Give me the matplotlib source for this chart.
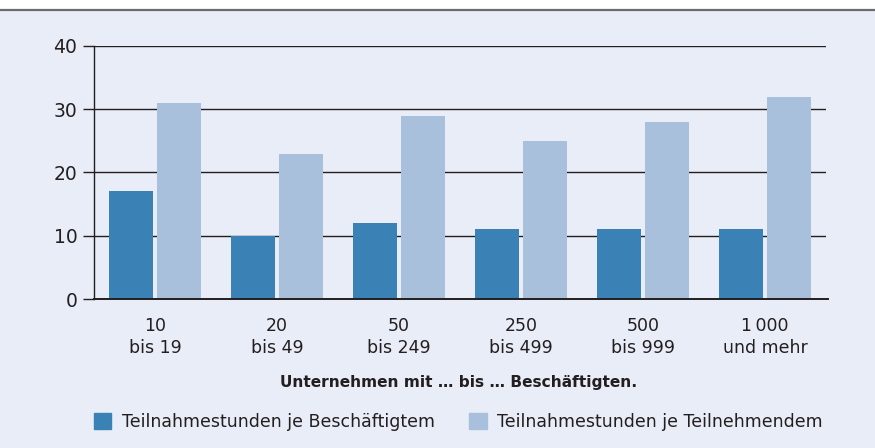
import matplotlib
matplotlib.use("Agg")
import matplotlib.pyplot as plt
import numpy as np
from matplotlib.patches import Rectangle
from matplotlib.lines import Line2D

categories = ["10\nbis 19", "20\nbis 49", "50\nbis 249", "250\nbis 499", "500\nbis 999", "1\u2009000\nund mehr"]
je_beschaeftigtem = [17, 10, 12, 11, 11, 11]
je_teilnehmendem = [31, 23, 29, 25, 28, 32]
series_names = ["Teilnahmestunden je Besch\u00e4ftigtem", "Teilnahmestunden je Teilnehmendem"]
yticks = [0, 10, 20, 30, 40]
xlabel = "Unternehmen mit \u2026 bis \u2026 Besch\u00e4ftigten."

dark = "#3A82B5"
light = "#A9C0DD"
bg = "#E8EDF8"
txt = "#231F20"

plt.rcParams['font.family'] = ['DejaVu Sans']

W, H = 875, 448
fig = plt.figure(figsize=(W/100, H/100), dpi=100)
fig.patch.set_facecolor("white")
bax = fig.add_axes([0, 0, 1, (H-11)/H], zorder=0)
bax.set_facecolor(bg)
bax.set_axis_off()
bax.add_patch(Rectangle((0, 0), 1, 1, transform=bax.transAxes, facecolor=bg, edgecolor='none'))
fig.lines.append(Line2D([0, 1], [(H-10.5)/H]*2, transform=fig.transFigure, color="#6b6b6b", lw=1.6, zorder=1))

left, right = 94/W, 826/W
bottom, top = (H-299)/H, (H-46)/H
ax = fig.add_axes([left, bottom, right-left, top-bottom], zorder=2)
ax.set_facecolor("none")

x = np.arange(len(categories))
bw = 0.36
ax.bar(x - 0.2, je_beschaeftigtem, width=bw, color=dark, zorder=3, label=series_names[0])
ax.bar(x + 0.2, je_teilnehmendem, width=bw, color=light, zorder=3, label=series_names[1])

ax.set_xlim(-0.5, 5.5)
ax.set_ylim(0, 40)
ax.set_yticks(yticks)
ax.set_yticklabels([str(v) for v in yticks], fontsize=13.5, color=txt)
ax.yaxis.grid(True, color=txt, lw=1.0, zorder=1)
ax.set_axisbelow(True)
ax.tick_params(axis='y', length=8, width=1.0, color=txt, pad=4)
ax.set_xticks(x)
ax.set_xticklabels(categories, fontsize=12.5, color=txt, linespacing=1.25)
ax.tick_params(axis='x', length=0, pad=13)
for s in ["top", "right", "bottom"]:
    ax.spines[s].set_visible(False)
ax.spines["left"].set_color(txt)
ax.spines["left"].set_linewidth(1.0)
ax.axhline(0, color=txt, lw=1.4, zorder=4, clip_on=False, xmax=1.003)

fig.text(459/W, (H-382)/H, xlabel, ha='center', va='center', fontsize=11.1, fontweight='bold', color=txt)

handles = [Rectangle((0, 0), 1, 1, color=dark), Rectangle((0, 0), 1, 1, color=light)]
leg = fig.legend(handles, series_names, loc='center left', bbox_to_anchor=(87/W, (H-422)/H),
                 ncol=2, frameon=False, fontsize=12.5, handlelength=1.0, handleheight=1.0,
                 handletextpad=0.6, columnspacing=2.0, borderaxespad=0)
for t in leg.get_texts():
    t.set_color(txt)

fig.savefig("out.png", dpi=100, facecolor=fig.get_facecolor())
